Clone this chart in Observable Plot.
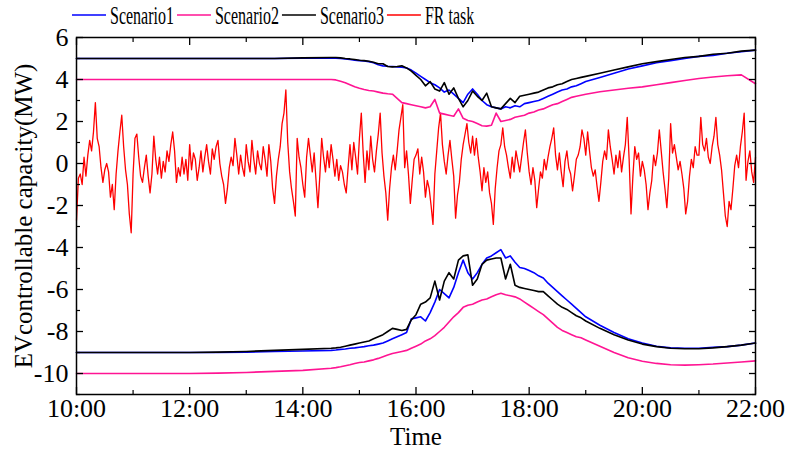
<!DOCTYPE html>
<html>
<head>
<meta charset="utf-8">
<script src="https://cdn.jsdelivr.net/npm/d3@7"></script>
<script src="https://cdn.jsdelivr.net/npm/@observablehq/plot@0.6"></script>
<style>
  html, body { margin: 0; padding: 0; background: #fff; }
  #wrap { position: relative; width: 786px; height: 452px; overflow: hidden; }
  #legend { position: absolute; left: 0; top: 0; }
  #chart { position: absolute; left: 0; top: 0; }
</style>
</head>
<body>
<div id="wrap"><div id="chart"></div><svg id="legend" width="786" height="34"></svg></div>
<script>
// ---------------- data ----------------
const seriesNames = ["Scenario1", "Scenario2", "Scenario3", "FR task"];
const seriesColors = ["#0000ff", "#ff1493", "#000000", "#ff0000"];

const sTimes = ["10:00","10:30","11:00","11:30","12:00","12:30","13:00","13:30","14:00",
  "14:30","14:35","14:40","14:45","14:50","14:55","15:00","15:05","15:10","15:15","15:20","15:25",
  "15:30","15:35","15:40","15:45","15:50","15:55","16:00","16:05","16:10","16:15","16:20","16:25",
  "16:30","16:35","16:40","16:45","16:50","16:55","17:00","17:05","17:10","17:15","17:20","17:25",
  "17:30","17:35","17:40","17:45","17:50","17:55","18:00","18:05","18:10","18:15","18:20","18:25",
  "18:30","18:35","18:40","18:45","18:50","18:55","19:00",
  "19:15","19:30","19:45","20:00","20:15","20:30","20:45","21:00","21:15","21:30","21:45","22:00"];

const s1Up = [5.0,5.0,5.0,5.0,5.0,5.0,5.0,5.0,5.02,
  5.02,5.02,5.0,4.98,4.95,4.92,4.9,4.88,4.85,4.8,4.7,4.65,
  4.63,4.62,4.6,4.58,4.55,4.45,4.3,4.15,4.0,3.85,3.75,3.6,
  3.4,3.5,3.3,3.1,2.9,3.3,3.55,3.3,3.0,2.8,2.7,2.65,
  2.6,2.7,2.65,2.75,2.7,2.85,2.9,2.95,3.0,3.1,3.2,3.3,
  3.4,3.5,3.55,3.65,3.7,3.8,3.9,
  4.1,4.3,4.5,4.65,4.8,4.9,5.0,5.1,5.15,5.25,5.32,5.4];
const s2Up = [4.0,4.0,4.0,4.0,4.0,4.0,4.0,4.0,4.0,
  4.0,3.98,3.92,3.85,3.75,3.65,3.58,3.52,3.48,3.45,3.4,3.35,
  3.32,3.3,3.1,2.9,2.85,2.8,2.75,2.7,2.65,2.7,3.05,2.4,
  2.35,2.3,2.25,2.6,2.15,2.05,2.0,1.9,1.8,1.78,1.82,2.4,
  2.0,2.05,2.1,2.2,2.25,2.3,2.4,2.45,2.55,2.6,2.7,2.8,
  2.85,2.95,3.05,3.15,3.2,3.25,3.3,
  3.42,3.5,3.58,3.65,3.75,3.85,3.95,4.05,4.12,4.18,4.22,3.8];
const s3Up = [5.0,5.0,5.0,5.0,5.0,5.0,5.0,5.0,5.03,
  5.05,5.05,5.03,5.0,4.98,4.95,4.92,4.9,4.87,4.82,4.75,4.75,
  4.62,4.6,4.62,4.65,4.55,4.4,4.2,4.0,3.7,3.9,3.55,3.45,
  3.85,3.3,3.6,3.1,2.7,3.0,3.45,3.2,3.0,3.35,2.7,2.65,
  2.6,2.85,3.1,2.9,3.2,3.25,3.3,3.35,3.4,3.5,3.6,3.65,
  3.75,3.8,3.9,4.0,4.05,4.1,4.15,
  4.3,4.45,4.6,4.75,4.85,4.95,5.05,5.1,5.2,5.25,5.35,5.4];

const s1Low = [-9.0,-9.0,-9.0,-9.0,-9.0,-9.0,-8.98,-8.95,-8.93,
  -8.9,-8.88,-8.85,-8.83,-8.8,-8.78,-8.75,-8.72,-8.68,-8.65,-8.6,-8.55,
  -8.45,-8.35,-8.25,-8.15,-8.05,-7.4,-7.35,-7.3,-7.5,-7.1,-6.6,-6.0,
  -6.2,-6.4,-5.9,-5.2,-4.6,-5.2,-5.5,-5.2,-4.8,-4.5,-4.4,-4.25,
  -4.1,-4.5,-4.4,-4.7,-4.95,-5.0,-5.1,-5.2,-5.35,-5.45,-5.7,-5.9,
  -6.1,-6.3,-6.5,-6.7,-6.9,-7.1,-7.3,
  -7.7,-8.05,-8.35,-8.55,-8.7,-8.78,-8.8,-8.8,-8.75,-8.72,-8.65,-8.55];
const s2Low = [-10.0,-10.0,-10.0,-10.0,-10.0,-9.98,-9.95,-9.9,-9.85,
  -9.75,-9.72,-9.68,-9.63,-9.58,-9.52,-9.48,-9.45,-9.4,-9.35,-9.28,-9.2,
  -9.12,-9.05,-9.0,-8.95,-8.9,-8.8,-8.7,-8.6,-8.45,-8.35,-8.2,-8.0,
  -7.8,-7.55,-7.3,-7.1,-6.85,-6.75,-6.7,-6.6,-6.5,-6.45,-6.35,-6.25,
  -6.18,-6.25,-6.3,-6.35,-6.45,-6.6,-6.75,-6.9,-7.05,-7.2,-7.4,-7.6,
  -7.8,-7.95,-8.05,-8.15,-8.25,-8.3,-8.4,
  -8.7,-9.0,-9.25,-9.42,-9.52,-9.58,-9.6,-9.58,-9.55,-9.5,-9.45,-9.4];
const s3Low = [-9.0,-9.0,-9.0,-9.0,-9.0,-8.98,-8.95,-8.9,-8.85,
  -8.8,-8.78,-8.75,-8.7,-8.65,-8.6,-8.55,-8.5,-8.45,-8.35,-8.25,-8.15,
  -8.0,-7.85,-7.9,-7.95,-7.9,-7.45,-7.2,-6.7,-6.6,-6.4,-5.6,-6.5,
  -5.6,-5.2,-5.5,-4.6,-4.4,-4.35,-5.8,-5.5,-4.8,-4.6,-4.55,-4.5,
  -4.5,-5.5,-4.8,-5.8,-5.9,-5.95,-6.0,-6.05,-6.1,-6.1,-6.3,-6.5,
  -6.7,-6.85,-6.95,-7.1,-7.25,-7.35,-7.5,
  -7.85,-8.15,-8.4,-8.6,-8.72,-8.8,-8.82,-8.82,-8.78,-8.72,-8.65,-8.55];

// FR task, one value every 2 minutes from 10:00 to 22:00 (one row per hour)
const frStepMinutes = 2;
const frValues = [
  -2.7,-0.7,-0.5,-1.0,0.3,-0.6,0.4,1.1,0.6,1.5,2.9,1.2,0.8,-0.2,-0.9,-0.3,0.0,-0.4,-1.6,-1.0,-2.2,-0.5,0.6,1.5,2.3,0.8,-0.3,-1.0,-2.4,-3.3,
  -0.5,1.2,1.4,0.3,-0.6,-0.9,-0.2,0.4,-0.6,-1.4,-0.5,1.3,0.2,-0.5,0.3,-0.7,0.1,-0.4,0.6,0.1,0.9,1.5,0.6,-0.9,-0.2,-0.6,0.3,-0.5,0.2,-0.8,
  0.9,-0.3,0.5,0.2,-0.8,-0.2,0.6,-0.4,0.3,0.9,0.1,-0.5,0.7,0.2,0.8,1.1,0.0,-0.6,-1.0,-1.9,-1.2,-0.2,0.3,-0.1,1.2,0.4,-0.5,0.4,-0.2,-0.6,
  0.9,0.1,-0.4,1.1,0.2,-0.5,0.6,0.0,-0.3,0.8,0.2,-0.6,0.9,0.1,-1.2,-1.9,-0.6,0.2,0.8,1.9,2.4,3.5,1.0,-0.4,-1.2,-1.8,-2.5,1.2,0.3,-0.2,
  -1.0,-1.6,0.3,1.2,0.4,-0.4,0.5,-0.8,-2.1,-0.6,1.2,0.3,-0.4,0.6,-0.2,0.9,0.2,-0.6,0.2,-0.8,-0.1,-0.4,-1.0,-1.4,-0.2,0.9,-0.3,1.0,0.3,-0.5,
  1.2,2.4,0.5,-0.9,0.6,-0.3,1.3,0.2,-0.4,0.6,1.4,2.4,0.5,-0.6,-1.4,-2.7,-1.2,-0.2,0.4,-0.3,0.6,1.6,2.2,2.8,-0.2,0.6,-0.5,-1.9,-0.8,0.2,
  0.4,0.7,-0.5,0.3,-0.4,-1.6,-0.8,-1.2,-2.0,-2.9,-0.5,0.6,1.7,2.4,0.9,0.1,-0.5,0.4,1.1,0.2,-0.6,-2.6,-1.5,-0.9,0.2,0.9,1.4,1.9,1.0,0.5,
  1.3,0.4,1.2,0.3,-0.4,-1.3,-0.2,-0.9,-0.4,-1.4,-1.9,-2.9,-1.2,-0.2,0.6,0.9,1.7,0.8,0.4,-0.2,-0.7,0.3,-0.4,0.6,0.1,-0.4,0.3,1.0,1.6,0.5,
  -0.4,-1.0,-0.2,-0.8,-2.1,-1.2,-0.4,-0.7,0.2,-0.3,0.3,0.8,1.2,1.7,0.4,-0.3,0.5,-0.4,-1.1,0.1,0.6,-0.2,-0.5,-1.3,-0.6,0.2,0.4,0.8,1.6,1.2,
  0.4,1.5,0.6,-0.2,-0.6,-0.3,-1.1,-1.8,-0.9,0.1,0.6,0.2,1.6,0.8,0.2,-0.5,0.4,-0.2,0.6,-0.4,0.3,0.9,2.2,0.2,-2.4,-0.6,0.8,0.2,0.5,-0.6,
  0.1,-0.3,-1.0,-2.2,-1.4,-0.8,0.4,-0.1,0.5,1.6,0.6,-0.4,-1.2,-2.1,-0.7,1.9,0.5,0.9,0.3,-0.3,0.1,-0.5,-1.2,-2.4,-1.8,-0.6,0.2,-0.2,0.8,0.4,
  0.4,2.2,0.9,0.6,1.2,0.3,0.0,0.8,1.3,2.2,0.9,0.4,-0.3,-1.4,-2.5,-3.0,-1.8,-2.2,-1.2,-0.1,0.4,-0.2,0.8,1.5,2.4,-0.8,0.1,0.6,-0.4,-0.9,
  0.3];

const xTicks = [10, 12, 14, 16, 18, 20, 22];
const xMinorTicks = [11, 13, 15, 17, 19, 21];
const yTicks = [-10, -8, -6, -4, -2, 0, 2, 4, 6];
const yMinorTicks = [-11, -9, -7, -5, -3, -1, 1, 3, 5];

// ---------------- build tables ----------------
const toHour = s => { const [h, m] = s.split(":").map(Number); return h + m / 60; };
const rows = [];
const addSeries = (name, part, vals) => vals.forEach((v, i) => rows.push({series: name, part, t: toHour(sTimes[i]), v}));
addSeries("Scenario1", "up", s1Up);
addSeries("Scenario1", "low", s1Low);
addSeries("Scenario2", "up", s2Up);
addSeries("Scenario2", "low", s2Low);
addSeries("Scenario3", "up", s3Up);
addSeries("Scenario3", "low", s3Low);
const frRows = frValues.map((v, i) => ({series: "FR task", part: "fr", t: 10 + i * frStepMinutes / 60, v}));

const FONT = "Liberation Serif, Times New Roman, serif";
const colorOf = Object.fromEntries(seriesNames.map((n, i) => [n, seriesColors[i]]));

const chart = Plot.plot({
  width: 786,
  height: 452,
  marginTop: 37,
  marginBottom: 58,
  marginLeft: 76,
  marginRight: 31,
  style: {fontFamily: FONT, fontSize: "26px", color: "black", background: "white"},
  x: {domain: [10, 22]},
  y: {domain: [-11, 6]},
  marks: [
    Plot.line(frRows, {x: "t", y: "v", stroke: colorOf["FR task"], strokeWidth: 1.3}),
    Plot.line(rows.filter(d => d.series === "Scenario2"), {x: "t", y: "v", z: "part", stroke: colorOf["Scenario2"], strokeWidth: 1.6}),
    Plot.line(rows.filter(d => d.series === "Scenario1"), {x: "t", y: "v", z: "part", stroke: colorOf["Scenario1"], strokeWidth: 1.6}),
    Plot.line(rows.filter(d => d.series === "Scenario3"), {x: "t", y: "v", z: "part", stroke: colorOf["Scenario3"], strokeWidth: 1.6}),
    // major ticks (inward) on all four sides
    Plot.axisX(xTicks, {anchor: "bottom", tickSize: -7, tickFormat: () => "", label: null, strokeWidth: 1.3}),
    Plot.axisX(xTicks, {anchor: "top", tickSize: -7, tickFormat: () => "", label: null, strokeWidth: 1.3}),
    Plot.axisY(yTicks, {anchor: "left", tickSize: -7, tickFormat: () => "", label: null, strokeWidth: 1.3}),
    Plot.axisY(yTicks, {anchor: "right", tickSize: -7, tickFormat: () => "", label: null, strokeWidth: 1.3}),
    // minor ticks
    Plot.axisX(xMinorTicks, {anchor: "bottom", tickSize: -4, tickFormat: () => "", label: null, strokeWidth: 1.2}),
    Plot.axisX(xMinorTicks, {anchor: "top", tickSize: -4, tickFormat: () => "", label: null, strokeWidth: 1.2}),
    Plot.axisY(yMinorTicks, {anchor: "left", tickSize: -4, tickFormat: () => "", label: null, strokeWidth: 1.2}),
    Plot.axisY(yMinorTicks, {anchor: "right", tickSize: -4, tickFormat: () => "", label: null, strokeWidth: 1.2}),
    // labels
    Plot.axisX(xTicks, {anchor: "bottom", tickSize: 0, tickPadding: 4, fontSize: 26,
      tickFormat: d => `${d}:00`, label: "Time", labelAnchor: "center", labelArrow: "none", labelOffset: 50}),
    Plot.axisY(yTicks, {anchor: "left", tickSize: 0, tickPadding: 8, fontSize: 26,
      tickFormat: d => `${d}`, label: "EVcontrollable capacity(MW)", labelAnchor: "center", labelArrow: "none", labelOffset: 62}),
    Plot.frame({stroke: "black", strokeWidth: 1.5})
  ]
});
document.getElementById("chart").appendChild(chart);
// axis titles slightly smaller than tick labels, as in the reference
d3.select(chart).selectAll("g[aria-label='x-axis label'] text, g[aria-label='y-axis label'] text")
  .attr("font-size", 25);

// ---------------- legend ----------------
const legend = d3.select("#legend");
const squeeze = 0.64;
let cx = 72;
seriesNames.forEach((name, i) => {
  legend.append("line").attr("x1", cx).attr("x2", cx + 34).attr("y1", 15).attr("y2", 15)
    .attr("stroke", seriesColors[i]).attr("stroke-width", 1.6);
  const t = legend.append("text").attr("x", cx + 38).attr("y", 24)
    .attr("font-family", FONT).attr("font-size", 25).attr("fill", "black").text(name);
  const w = t.node().getComputedTextLength() * squeeze;
  t.attr("textLength", w).attr("lengthAdjust", "spacingAndGlyphs");
  cx += 38 + w + 3;
});
</script>
</body>
</html>
